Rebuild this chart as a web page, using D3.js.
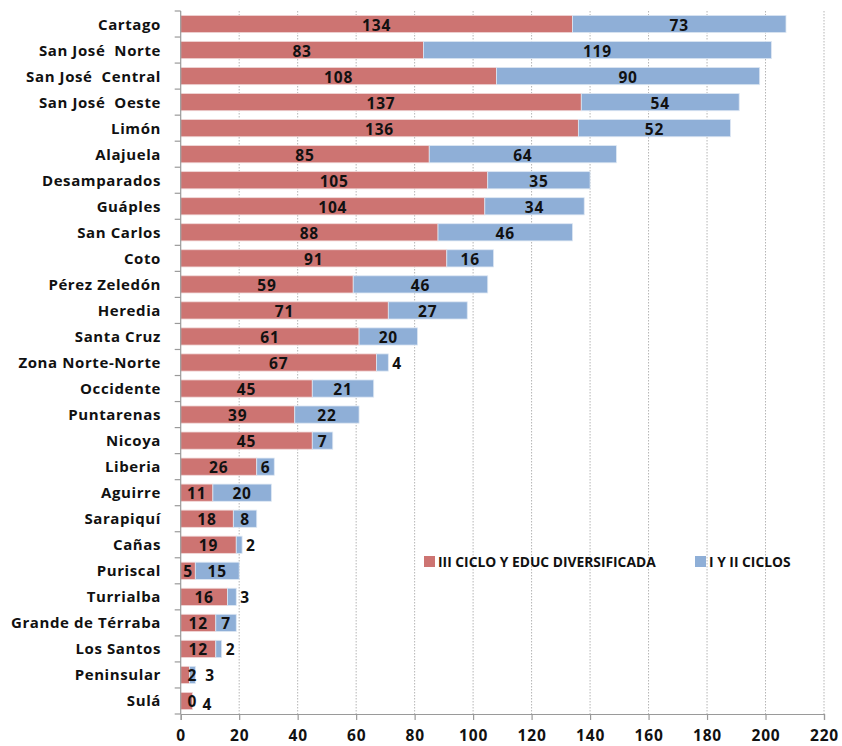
<!DOCTYPE html>
<html lang="es">
<head>
<meta charset="UTF-8">
<title>Matrícula por región</title>
<script src="https://cdn.jsdelivr.net/npm/d3@7.8.5/dist/d3.min.js"></script>
<style>
    body { margin: 0; background: #fff; }
    svg text { font-family: 'Open Sans', Lato, sans-serif; font-weight: 700; fill: #111; }
</style>
</head>
<body>
<div id="chart"></div>
<script>
    // datos
    const categories = ["Cartago", "San José  Norte", "San José  Central", "San José  Oeste", "Limón", "Alajuela",
        "Desamparados", "Guáples", "San Carlos", "Coto", "Pérez Zeledón", "Heredia", "Santa Cruz",
        "Zona Norte-Norte", "Occidente", "Puntarenas", "Nicoya", "Liberia", "Aguirre", "Sarapiquí",
        "Cañas", "Puriscal", "Turrialba", "Grande de Térraba", "Los Santos", "Peninsular", "Sulá"];
    const cicloIII = [134, 83, 108, 137, 136, 85, 105, 104, 88, 91, 59, 71, 61, 67, 45, 39, 45, 26, 11, 18, 19, 5, 16, 12, 12, 3, 4];
    const cicloI_II = [73, 119, 90, 54, 52, 64, 35, 34, 46, 16, 46, 27, 20, 4, 21, 22, 7, 6, 20, 8, 2, 15, 3, 7, 2, 2, 0];
    const xTicks = [0, 20, 40, 60, 80, 100, 120, 140, 160, 180, 200, 220];
    const seriesNames = ["III CICLO Y EDUC DIVERSIFICADA", "I Y II CICLOS"];
    const colors = ["#cd7472", "#8fafd7"];

    const W = 842, H = 746;
    const svg = d3.select("#chart").append("svg").attr("width", W).attr("height", H);

    const x = d3.scaleLinear().domain([0, 220]).range([180.7, 824]);
    const y = d3.scaleBand().domain(categories).range([11, 714]).paddingInner(0.34).paddingOuter(0.17);
    const step = y.step();

    // rejilla punteada
    svg.append("g").selectAll("line").data(xTicks.slice(1)).enter().append("line")
        .attr("x1", d => x(d)).attr("x2", d => x(d))
        .attr("y1", 11).attr("y2", 714)
        .attr("stroke", "#b5b5b5").attr("stroke-width", 1).attr("stroke-dasharray", "1.5,1.5");

    const rows = categories.map((c, i) => ({ cat: c, a: cicloIII[i], b: cicloI_II[i] }));

    // barras
    const g = svg.append("g");
    rows.forEach(r => {
        g.append("rect").attr("x", x(0)).attr("y", y(r.cat))
            .attr("width", x(r.a) - x(0)).attr("height", y.bandwidth())
            .attr("fill", colors[0]).attr("stroke", "#f0d8d8").attr("stroke-width", 0.8);
        if (r.b > 0) {
            g.append("rect").attr("x", x(r.a)).attr("y", y(r.cat))
                .attr("width", x(r.a + r.b) - x(r.a)).attr("height", y.bandwidth())
                .attr("fill", colors[1]).attr("stroke", "#dde7f3").attr("stroke-width", 0.8);
        }
    });

    // etiquetas de valores
    const lab = svg.append("g").style("font-size", "15.5px").style("letter-spacing", "0.8px");
    rows.forEach(r => {
        const cy = y(r.cat) + y.bandwidth() / 2 + 6.5;
        const end = x(r.a + r.b);
        if (r.a < 5) {
            // segmento rojo demasiado pequeño: etiqueta fuera
            lab.append("text").attr("x", end + 10).attr("y", cy + (r.b === 0 ? 3 : 0)).attr("text-anchor", "start").text(r.a);
            lab.append("text").attr("x", x(r.a + r.b / 2)).attr("y", cy).attr("text-anchor", "middle").text(r.b);
        } else {
            lab.append("text").attr("x", x(r.a / 2)).attr("y", cy).attr("text-anchor", "middle").text(r.a);
            if (r.b < 5) {
                lab.append("text").attr("x", end + 4).attr("y", cy).attr("text-anchor", "start").text(r.b);
            } else {
                lab.append("text").attr("x", x(r.a + r.b / 2)).attr("y", cy).attr("text-anchor", "middle").text(r.b);
            }
        }
    });

    // eje de categorías
    const axisColor = "#9a9a9a";
    svg.append("line").attr("x1", x(0)).attr("x2", x(0)).attr("y1", 11).attr("y2", 714)
        .attr("stroke", axisColor).attr("stroke-width", 1.2);
    svg.append("g").selectAll("line").data(d3.range(categories.length + 1)).enter().append("line")
        .attr("x1", x(0) - 6).attr("x2", x(0))
        .attr("y1", i => 11 + i * step).attr("y2", i => 11 + i * step)
        .attr("stroke", axisColor).attr("stroke-width", 1.2);
    svg.append("g").style("font-size", "15px").style("letter-spacing", "0.6px")
        .selectAll("text").data(categories).enter().append("text")
        .attr("x", 161).attr("y", d => y(d) + y.bandwidth() / 2 + 5.5)
        .attr("text-anchor", "end").attr("xml:space", "preserve").text(d => d);

    // eje de valores
    const xAxis = svg.append("g").attr("transform", "translate(0,714)")
        .call(d3.axisBottom(x).tickValues(xTicks).tickSize(6));
    xAxis.select(".domain").attr("stroke", axisColor).attr("stroke-width", 1.2);
    xAxis.selectAll(".tick line").attr("stroke", axisColor).attr("stroke-width", 1.2);
    xAxis.selectAll(".tick text").attr("y", 27).attr("dy", 0)
        .style("font-family", "'Open Sans', sans-serif").style("font-weight", 700)
        .style("font-size", "15.5px").style("letter-spacing", "0.8px").attr("fill", "#111");

    // leyenda
    const legend = svg.append("g").style("font-size", "13.8px");
    const legX = [424, 695];
    seriesNames.forEach((s, i) => {
        legend.append("rect").attr("x", legX[i]).attr("y", 556).attr("width", 11).attr("height", 11).attr("fill", colors[i]);
        legend.append("text").attr("x", legX[i] + 14).attr("y", 566.5).text(s);
    });
</script>
</body>
</html>
